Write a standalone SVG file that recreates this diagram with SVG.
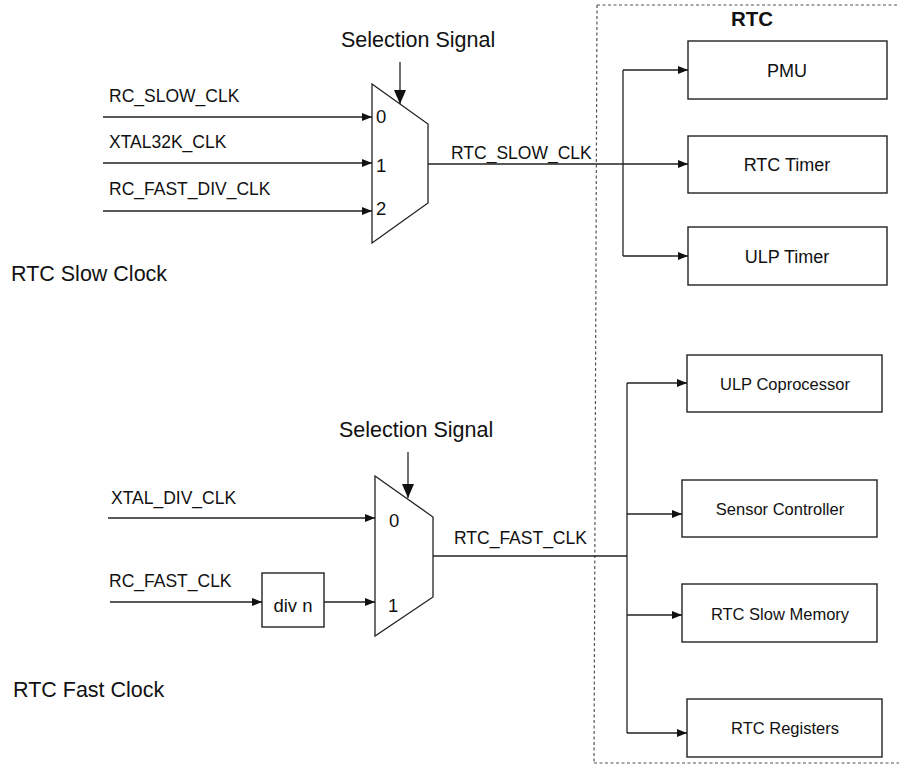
<svg xmlns="http://www.w3.org/2000/svg" width="899" height="764" viewBox="0 0 899 764">
<style>
text{font-family:"Liberation Sans",Arial,sans-serif;fill:#111}
.lbl{font-size:17.5px}
.num{font-size:18.5px}
.big{font-size:21.5px}
.box{fill:#fff;stroke:#222;stroke-width:1.4}
.mux{fill:#fff;stroke:#222;stroke-width:1.3}
.w{fill:none;stroke:#222;stroke-width:1.3}
.a{fill:none;stroke:#222;stroke-width:1.3;marker-end:url(#ah)}
.s{fill:none;stroke:#222;stroke-width:1.3;marker-end:url(#ahb)}
.btxt{font-size:18px;text-anchor:middle}
.btxt2{font-size:16.5px;text-anchor:middle}
</style>
<defs>
<marker id="ah" viewBox="0 0 10 8" refX="10" refY="4" markerWidth="10" markerHeight="8" markerUnits="userSpaceOnUse" orient="auto">
<path d="M0,0 L10,4 L0,8 z" fill="#111"/>
</marker>
<marker id="ahb" viewBox="0 0 14 12" refX="14" refY="6" markerWidth="14" markerHeight="12" markerUnits="userSpaceOnUse" orient="auto">
<path d="M0,0 L14,6 L0,12 z" fill="#111"/>
</marker>
</defs>
<rect width="899" height="764" fill="#fff"/>

<g id="rtc-domain">
<path d="M597,5 L905,5 M594,763 L905,763 M597,5 L594,763" fill="none" stroke="#555" stroke-width="1.2" stroke-dasharray="3,2.5"/>
<text x="752" y="26" font-size="20.5" font-weight="bold" text-anchor="middle">RTC</text>
</g>

<g id="title-slow"><text class="big" x="11" y="281">RTC Slow Clock</text></g>
<g id="title-fast"><text class="big" x="13" y="697">RTC Fast Clock</text></g>

<g id="sel-slow"><text class="big" x="341" y="47">Selection Signal</text></g>
<g id="sel-fast"><text class="big" x="339" y="437">Selection Signal</text></g>

<g id="mux-slow">
<path class="mux" d="M372,84 L428,124 L428,203 L372,243 z"/>
<text class="num" x="376" y="123">0</text>
<text class="num" x="376" y="172">1</text>
<text class="num" x="376" y="215">2</text>
</g>

<g id="mux-fast">
<path class="mux" d="M375,476 L433,517 L433,597 L375,636 z"/>
<text class="num" x="389" y="527">0</text>
<text class="num" x="388" y="612">1</text>
</g>

<g id="div-n">
<rect class="box" x="262" y="573" width="62" height="54"/>
<text x="293" y="612" font-size="18.5" text-anchor="middle">div n</text>
</g>

<g id="pmu"><rect class="box" x="688" y="41" width="199" height="58"/><text class="btxt" x="787" y="77">PMU</text></g>
<g id="rtc-timer"><rect class="box" x="688" y="136" width="199" height="57"/><text class="btxt" x="787" y="171">RTC Timer</text></g>
<g id="ulp-timer"><rect class="box" x="688" y="227" width="199" height="58"/><text class="btxt" x="787" y="263">ULP Timer</text></g>

<g id="ulp-coprocessor"><rect class="box" x="687" y="355" width="195" height="57"/><text class="btxt2" x="785" y="390">ULP Coprocessor</text></g>
<g id="sensor-controller"><rect class="box" x="682" y="480" width="195" height="57"/><text class="btxt2" x="780" y="515">Sensor Controller</text></g>
<g id="rtc-slow-memory"><rect class="box" x="682" y="584" width="195" height="58"/><text class="btxt2" x="780" y="620">RTC Slow Memory</text></g>
<g id="rtc-registers"><rect class="box" x="687" y="699" width="195" height="58"/><text class="btxt2" x="785" y="734">RTC Registers</text></g>

<g id="connectors">
<line class="a" x1="103" y1="117" x2="372" y2="117"/>
<text class="lbl" x="109" y="102">RC_SLOW_CLK</text>
<line class="a" x1="103" y1="163" x2="372" y2="163"/>
<text class="lbl" x="109" y="148">XTAL32K_CLK</text>
<line class="a" x1="103" y1="211" x2="372" y2="211"/>
<text class="lbl" x="109" y="195">RC_FAST_DIV_CLK</text>
<line class="s" x1="400" y1="62" x2="400" y2="104"/>
<line class="s" x1="408" y1="452" x2="408" y2="498"/>
<line class="a" x1="428" y1="164" x2="688" y2="164"/>
<text class="lbl" x="451" y="159">RTC_SLOW_CLK</text>
<path class="w" d="M623,256 L623,70"/>
<line class="a" x1="623" y1="70" x2="688" y2="70"/>
<line class="a" x1="623" y1="256" x2="688" y2="256"/>
<line class="a" x1="108" y1="518" x2="375" y2="518"/>
<text class="lbl" x="111" y="504">XTAL_DIV_CLK</text>
<line class="a" x1="110" y1="602" x2="262" y2="602"/>
<text class="lbl" x="109" y="587">RC_FAST_CLK</text>
<line class="a" x1="324" y1="602" x2="375" y2="602"/>
<path class="w" d="M433,556 L627,556"/>
<text class="lbl" x="454" y="544">RTC_FAST_CLK</text>
<path class="w" d="M627,383 L627,733"/>
<line class="a" x1="627" y1="383" x2="687" y2="383"/>
<line class="a" x1="627" y1="514" x2="682" y2="514"/>
<line class="a" x1="627" y1="615" x2="682" y2="615"/>
<line class="a" x1="627" y1="733" x2="687" y2="733"/>
</g>
</svg>
